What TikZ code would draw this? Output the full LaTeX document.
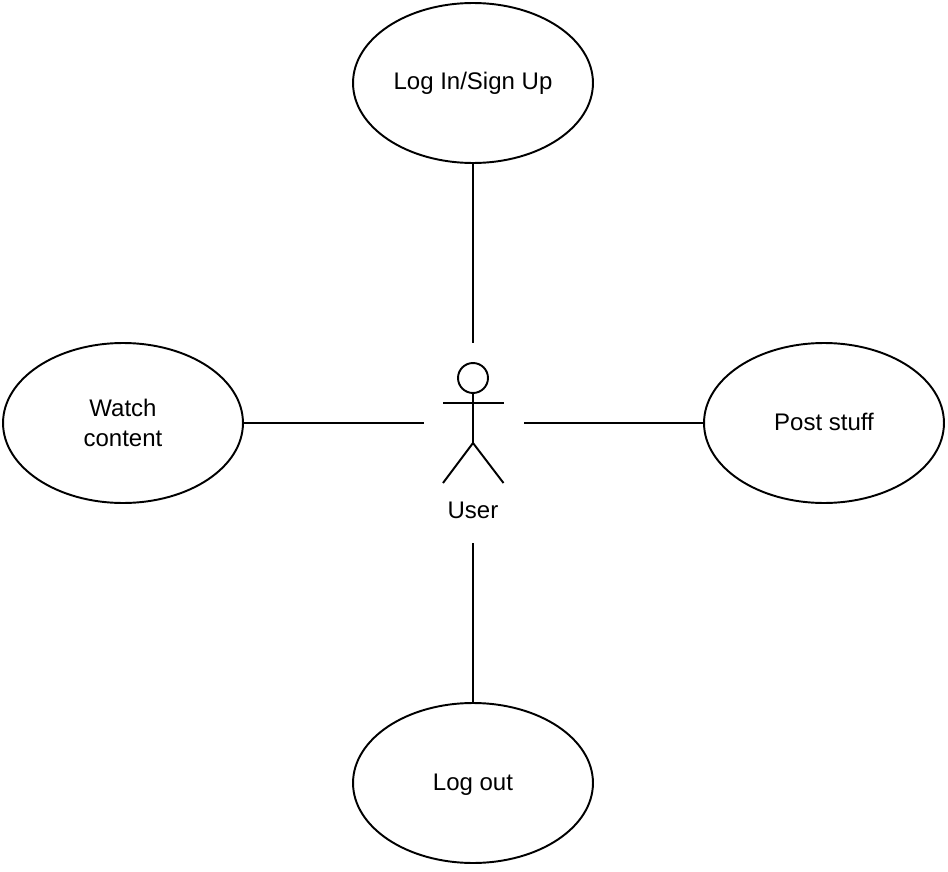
\documentclass[tikz,border=0pt]{standalone}
\usepackage{fontspec}
\setmainfont{Liberation Sans}
\usetikzlibrary{shapes.geometric, positioning}
\tikzstyle{usecase} = [ellipse, minimum width=4.8cm, minimum height=3.2cm, inner sep=0pt, align=center, draw=black, line width=1.1pt, font=\fontsize{13.66}{17.07}\selectfont]
\tikzstyle{oneline} = [text height=0.4cm, text depth=0.12cm]
\tikzstyle{line} = [line width=1.1pt]

\begin{document}
\begin{tikzpicture}[x=0.02cm, y=-0.02cm]
        \useasboundingbox (0,0) rectangle (948,872);
        \node (login) [usecase, oneline] at (473,83) {Log In/Sign Up};
        \node (watch) [usecase] at (123,423) {Watch\\content};
        \node (post) [usecase, oneline] at (824,423) {Post stuff};
        \node (logout) [usecase, oneline] at (473,783) {Log out};

        % actor
        \node (head) [circle, draw=black, line width=1.1pt, minimum size=0.6cm, inner sep=0pt] at (473,378) {};
        \coordinate (hip) at (473,443);
        \draw [line] (head) -- (hip);
        \draw [line] (443,403) -- (503.5,403);
        \draw [line] (443,483) -- (hip) -- (503.5,483);
        \node (user) [font=\fontsize{13.66}{17.07}\selectfont] at (473,510) {User};

        \coordinate (user-top) at (473,343);
        \coordinate (user-left) at (423.5,423);
        \coordinate (user-right) at (523.5,423);
        \coordinate (user-bottom) at (473,543);

        \draw [line] (login) -- (user-top);
        \draw [line] (watch) -- (user-left);
        \draw [line] (post) -- (user-right);
        \draw [line] (logout) -- (user-bottom);
    \end{tikzpicture}
\end{document}
